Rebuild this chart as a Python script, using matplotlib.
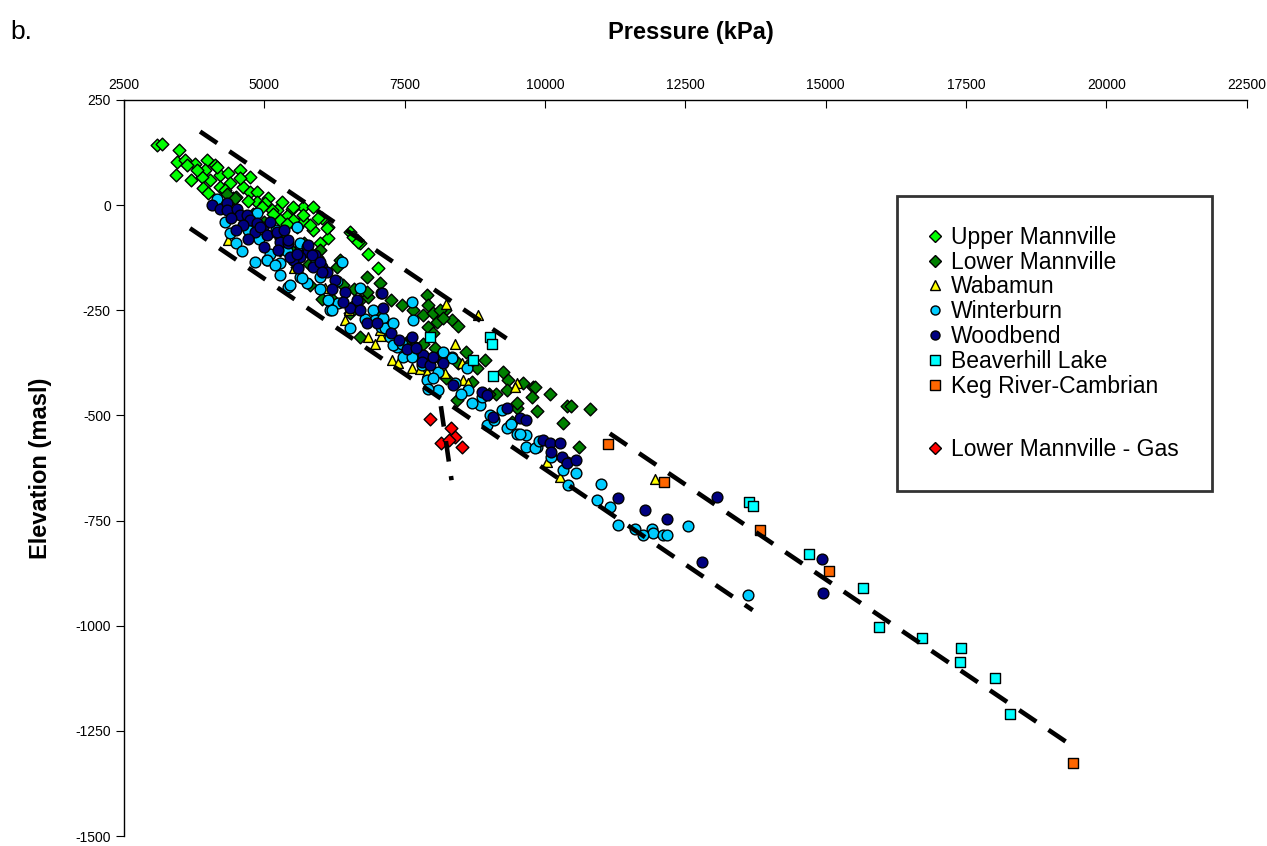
import numpy as np
import matplotlib
matplotlib.use("Agg")
import matplotlib.pyplot as plt
from matplotlib.lines import Line2D

plt.rcParams['font.family'] = ['Liberation Sans', 'DejaVu Sans']
plt.rcParams['axes.unicode_minus'] = False

# pressure (kPa), elevation (masl)
upper_mannville = [
    (3080, 143), (3170, 145), (3485, 130), (3425, 72), (3450, 103), (3590, 107), (3765, 99),
    (3970, 107), (4120, 95), (3945, 84), (4030, 60), (4210, 72), (4360, 76), (4210, 44),
    (4390, 52), (4565, 84), (4745, 68), (4625, 44), (4745, 32), (4865, 32), (5070, 18),
    (4865, 8), (5310, 8), (5485, -8), (5695, -5), (5870, -4), (6020, -31), (6140, -51),
    (6140, -79), (5990, -91), (5870, -59), (5695, -35), (5575, -51), (5395, -27), (5220, -12),
    (5010, 4), (5130, -12), (5515, -35), (5280, -35), (4565, 64), (4445, 16), (4150, 91),
    (3885, 68), (3615, 95), (3795, 83), (5515, -4), (5695, -23), (5815, -47), (5960, -31),
    (6110, -55), (6525, -63), (6645, -83), (6705, -91), (6850, -115), (7030, -150),
    (6585, -75), (6675, -87), (3700, 60), (3900, 40), (4000, 30), (4300, 35), (4500, 20),
    (4700, 10), (4950, -5), (5150, -20), (5400, -45),
]
lower_mannville = [
    (4330, 26), (4475, 16), (5280, -107), (5605, -115), (5990, -107), (6290, -146),
    (5515, -111), (5930, -123), (6345, -131), (5575, -146), (5815, -190), (6020, -224),
    (6230, -226), (6525, -257), (6705, -313), (6705, -226), (6820, -172), (6850, -219),
    (6820, -206), (7060, -186), (7265, -226), (7445, -238), (7535, -325), (7655, -249),
    (7830, -261), (7920, -289), (8010, -305), (8070, -277), (8215, -249), (8335, -273),
    (7890, -214), (7920, -237), (8010, -257), (8130, -249), (8185, -269), (8455, -287),
    (7830, -329), (8040, -340), (8245, -412), (8425, -463), (8600, -348), (8630, -380),
    (8780, -388), (8930, -368), (8455, -376), (9255, -396), (9345, -416), (9315, -440),
    (9610, -424), (9790, -433), (9820, -432), (9760, -455), (10085, -448), (9135, -448),
    (9495, -483), (9850, -490), (9405, -515), (10385, -478), (10460, -477), (10810, -485),
    (10325, -519), (10610, -574), (5000, -40), (5300, -80), (5800, -140), (6400, -190),
    (6600, -200), (7000, -260), (7200, -290), (7500, -330), (7700, -350), (8100, -360),
    (8700, -420), (9000, -450), (9500, -470), (4800, -20), (5700, -90),
]
wabamun = [
    (4360, -83), (5520, -150), (6080, -198), (6155, -222), (6440, -272), (6850, -313),
    (6970, -330), (7070, -311), (7060, -297), (7270, -368), (7385, -376), (7625, -388),
    (7770, -390), (7890, -396), (8215, -400), (8395, -329), (8245, -234), (8810, -261),
    (8515, -376), (8545, -416), (8630, -424), (9495, -424), (9465, -432), (10030, -610),
    (10265, -646), (11960, -652), (6500, -250),
]
winterburn = [
    (4150, 14), (4390, -67), (4865, -19), (4835, -134), (5040, -130), (5100, -115),
    (5280, -138), (5430, -194), (5635, -95), (5575, -51), (5635, -170), (6170, -249),
    (6320, -232), (6375, -134), (6525, -293), (6705, -198), (7070, -210), (7070, -289),
    (7625, -230), (7640, -272), (5990, -170), (5755, -186), (5635, -91), (5040, -131),
    (5190, -142), (5280, -166), (5455, -190), (5665, -174), (6140, -226), (6200, -249),
    (6940, -249), (6970, -273), (7120, -269), (7150, -293), (7235, -313), (7355, -337),
    (7685, -337), (8185, -351), (8335, -360), (7295, -333), (7445, -329), (7565, -341),
    (7475, -360), (7625, -360), (7890, -416), (8100, -396), (8185, -349), (8335, -364),
    (8605, -388), (8630, -440), (8395, -424), (8100, -440), (7920, -436), (8840, -475),
    (9020, -499), (8870, -455), (9315, -531), (9495, -543), (9670, -547), (9670, -574),
    (9850, -574), (8960, -523), (9225, -487), (9555, -543), (9820, -578), (10325, -630),
    (10560, -638), (10415, -666), (11005, -662), (10920, -701), (11155, -717), (11305, -761),
    (11600, -769), (11900, -769), (11930, -780), (12105, -784), (12165, -784), (12550, -763),
    (11750, -784), (13620, -927), (4300, -40), (4500, -90), (4700, -60), (4600, -110),
    (4900, -80), (5200, -60), (5400, -110), (5900, -140), (6000, -200), (6300, -180),
    (6600, -240), (6800, -270), (7300, -280), (7800, -380), (8000, -410), (8500, -450),
    (8700, -470), (9100, -510), (9400, -520), (9900, -560), (10100, -600), (10400, -610),
]
woodbend = [
    (4060, 0), (4210, -8), (4330, 4), (4330, -12), (4505, -8), (4565, -24), (4685, -24),
    (4745, -35), (4865, -43), (4980, -51), (4625, -47), (4835, -63), (5040, -71), (5220, -67),
    (5280, -87), (5425, -91), (5755, -99), (5785, -111), (5900, -119), (5635, -123),
    (6020, -146), (5515, -130), (5870, -146), (6110, -158), (4920, -51), (5220, -63),
    (5425, -83), (5250, -107), (5455, -123), (5575, -115), (5785, -95), (5840, -119),
    (5990, -134), (6020, -158), (6260, -178), (6435, -206), (6645, -226), (6525, -245),
    (7090, -210), (7120, -245), (6820, -281), (7265, -305), (7625, -313), (7830, -356),
    (7535, -341), (7800, -372), (7950, -380), (8185, -376), (8365, -428), (8870, -444),
    (8960, -451), (9315, -483), (9080, -503), (9555, -507), (9670, -511), (9970, -559),
    (10085, -566), (10265, -566), (10115, -586), (10295, -600), (10385, -614), (10560, -606),
    (11305, -697), (11780, -725), (12165, -747), (13060, -693), (12790, -848), (14930, -842),
    (14945, -923), (4400, -30), (4500, -60), (4700, -80), (5000, -100), (5100, -40),
    (5350, -60), (5600, -150), (6200, -200), (6400, -230), (6700, -250), (7000, -280),
    (7400, -320), (7700, -340), (8000, -360),
]
beaverhill_lake = [
    (7950, -313), (9020, -314), (9050, -330), (8710, -368), (9080, -406), (13640, -706),
    (13710, -715), (14705, -830), (15670, -910), (15955, -1002), (16720, -1030),
    (17405, -1052), (17390, -1087), (18020, -1124), (18280, -1211),
]
keg_river = [(11125, -569), (12115, -658), (13825, -772), (15060, -869), (19400, -1327)]
lower_mannville_gas = [(7950, -509), (8320, -529), (8395, -551), (8140, -565), (8295, -559), (8530, -574)]

# dashed envelope lines (pressure, elevation end points)
env_upper = [(3855, 175), (9315, -317)]
env_lower = [(3675, -55), (13700, -963)]
env_right = [(11155, -543), (19440, -1290)]
env_gas = [(8145, -478), (8335, -654)]

series = [
    ("Upper Mannville", upper_mannville, "D", "#00FF00", 42),
    ("Lower Mannville", lower_mannville, "D", "#008000", 42),
    ("Wabamun", wabamun, "^", "#FFFF00", 50),
    ("Winterburn", winterburn, "o", "#00CCFF", 60),
    ("Woodbend", woodbend, "o", "#000080", 60),
    ("Beaverhill Lake", beaverhill_lake, "s", "#00FFFF", 55),
    ("Keg River-Cambrian", keg_river, "s", "#FF6600", 55),
    ("Lower Mannville - Gas", lower_mannville_gas, "D", "#FF0000", 42),
]

fig = plt.figure(figsize=(12.67, 8.46), dpi=100)
ax = fig.add_axes([0.0979, 0.0118, 0.886, 0.870])

for name, pts, mk, col, sz in series:
    arr = np.array(pts)
    ax.scatter(arr[:, 0], arr[:, 1], marker=mk, s=sz, facecolor=col,
               edgecolor="black", linewidth=1.0, zorder=3)

for seg in (env_upper, env_lower, env_right, env_gas):
    arr = np.array(seg)
    ax.plot(arr[:, 0], arr[:, 1], color="black", lw=3.3,
            linestyle=(0, (4.5, 3.2)), zorder=4, solid_capstyle="butt")

ax.set_xlim(2500, 22500)
ax.set_ylim(-1500, 250)
ax.set_xticks(np.arange(2500, 22501, 2500))
ax.set_yticks(np.arange(-1500, 251, 250))
ax.xaxis.tick_top()
ax.spines['right'].set_visible(False)
ax.spines['bottom'].set_visible(False)
ax.spines['top'].set_linewidth(1.0)
ax.spines['left'].set_linewidth(1.0)
ax.tick_params(axis='x', direction='in', length=6, labelsize=10, pad=6)
ax.tick_params(axis='y', direction='out', length=6, labelsize=10)

fig.text(0.008, 0.962, "b.", fontsize=19, ha='left', va='center')
fig.text(0.545, 0.962, "Pressure (kPa)", fontsize=17, fontweight='bold', ha='center', va='center')
fig.text(0.032, 0.447, "Elevation (masl)", fontsize=17, fontweight='bold',
         ha='center', va='center', rotation=90)

handles = []
labels = []
for name, pts, mk, col, sz in series:
    if name == "Lower Mannville - Gas":
        handles.append(Line2D([], [], linestyle='none'))
        labels.append("\n")
    handles.append(Line2D([], [], marker=mk, linestyle='none', markerfacecolor=col,
                          markeredgecolor='black', markersize=6.5 if mk != 'D' else 6))
    labels.append(name)

leg = ax.legend(handles, labels, loc='upper left', bbox_to_anchor=(0.689, 0.467, 0.280, 0.4026),
                mode='expand', fontsize=16.5, frameon=True, fancybox=False, borderpad=1.3,
                labelspacing=0.08, handlelength=0.7, handletextpad=0.35, borderaxespad=0)
leg.get_texts()[7].set_fontsize(13.5)
leg.get_frame().set_edgecolor('black')
leg.get_frame().set_linewidth(2.0)

fig.savefig("out.png", dpi=100)
